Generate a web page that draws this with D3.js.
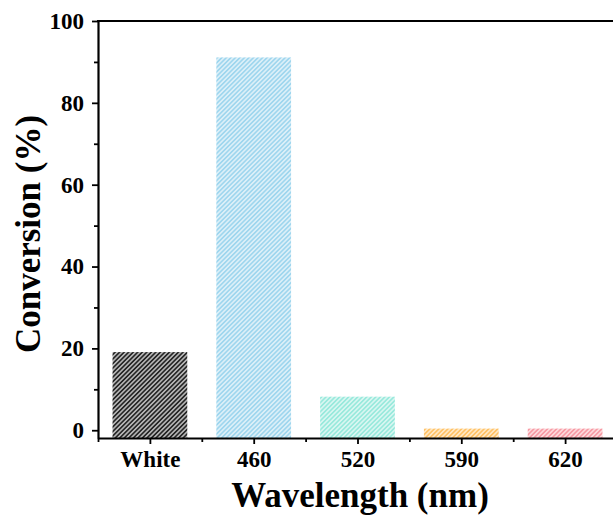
<!DOCTYPE html>
<html>
<head>
<meta charset="utf-8">
<script src="https://cdn.jsdelivr.net/npm/d3@7"></script>
<style>
  body { margin: 0; background: #fff; }
  svg text { font-family: "Liberation Serif", "Times New Roman", serif; font-weight: bold; }
</style>
</head>
<body>
<div class="board"></div>
<script>
// chart data
var categories = ["White", "460", "520", "590", "620"];
var conversion = [19.1, 91.1, 8.2, 0.4, 0.4];
var barColors = ["#b4b4b4", "#9fd6ee", "#98e9dc", "#ffc266", "#f79aa4"];
var hatchColors = ["#111111", "#ffffff", "#ffffff", "#ffffff", "#ffffff"];
var yTicks = [0, 20, 40, 60, 80, 100];
var yMinorTicks = [10, 30, 50, 70, 90];

var boardInfo = { width: 613, height: 515 };
var margin = { left: 98, top: 21, right: -4, bottom: 77 };

var svg = d3.select(".board").append("svg")
  .attr("width", boardInfo.width)
  .attr("height", boardInfo.height);

var plotW = boardInfo.width - margin.left - margin.right;
var plotH = boardInfo.height - margin.top - margin.bottom;

// index scale, bands centred on integers
var x = d3.scaleLinear().domain([-0.5, categories.length - 0.5]).range([margin.left, margin.left + plotW]);
var y = d3.scaleLinear().domain([-1.9, 100]).range([margin.top + plotH, margin.top]);
var step = x(1) - x(0);
var barW = step * 0.72;

// hatch patterns
var defs = svg.append("defs");
categories.forEach(function(c, i) {
  var p = defs.append("pattern")
    .attr("id", "hatch" + i)
    .attr("patternUnits", "userSpaceOnUse")
    .attr("width", 3.2).attr("height", 3.2)
    .attr("patternTransform", "rotate(45)");
  p.append("rect").attr("width", 3.2).attr("height", 3.2).attr("fill", barColors[i]);
  p.append("line")
    .attr("x1", 0.8).attr("y1", 0).attr("x2", 0.8).attr("y2", 3.2)
    .attr("stroke", hatchColors[i])
    .attr("stroke-width", i === 0 ? 1.4 : 1.0);
});

// bars
svg.selectAll(".bar").data(conversion)
  .enter().append("rect")
  .attr("class", "bar")
  .attr("x", function(d, i) { return x(i) - barW / 2; })
  .attr("width", barW)
  .attr("y", function(d) { return y(d); })
  .attr("height", function(d) { return y(-1.9) - y(d); })
  .attr("fill", function(d, i) { return "url(#hatch" + i + ")"; });

// y axis
svg.append("g")
  .attr("transform", "translate(" + margin.left + ",0)")
  .call(d3.axisLeft(y).tickValues(yTicks).tickSize(6).tickPadding(8).tickSizeOuter(0));
svg.append("g")
  .attr("transform", "translate(" + margin.left + ",0)")
  .call(d3.axisLeft(y).tickValues(yMinorTicks).tickSize(4).tickFormat(""))
  .select(".domain").remove();

// x axis
svg.append("g")
  .attr("transform", "translate(0," + (margin.top + plotH) + ")")
  .call(d3.axisBottom(x).tickValues(d3.range(categories.length))
    .tickFormat(function(i) { return categories[i]; })
    .tickSize(6).tickPadding(7).tickSizeOuter(0));
svg.append("g")
  .attr("transform", "translate(0," + (margin.top + plotH) + ")")
  .call(d3.axisBottom(x).tickValues(d3.range(categories.length + 1).map(function(k) { return k - 0.5; }))
    .tickSize(4).tickFormat(""))
  .select(".domain").remove();

// top frame line
svg.append("line")
  .attr("x1", margin.left - 1).attr("x2", margin.left + plotW)
  .attr("y1", margin.top).attr("y2", margin.top)
  .attr("stroke", "#000").attr("stroke-width", 2.2);

svg.selectAll(".domain").attr("stroke-width", 2.2);
svg.selectAll(".tick line").attr("stroke-width", 1.8);
svg.selectAll(".tick text").style("font-size", "23px").attr("fill", "#000");

// axis titles
svg.append("text")
  .attr("x", 360).attr("y", 507)
  .attr("text-anchor", "middle")
  .style("font-size", "35px")
  .text("Wavelength (nm)");

svg.append("text")
  .attr("transform", "translate(40,234) rotate(-90)")
  .attr("text-anchor", "middle")
  .style("font-size", "35px")
  .text("Conversion (%)");
</script>
</body>
</html>
